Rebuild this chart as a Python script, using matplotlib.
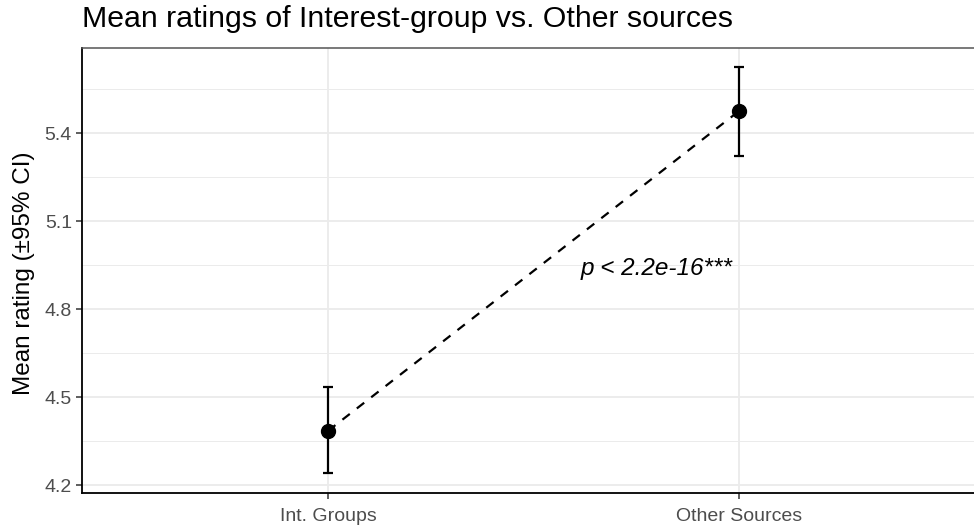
import numpy as np
import matplotlib.pyplot as plt

plt.rcParams['font.family'] = ['Liberation Sans', 'DejaVu Sans']

groups = ["Int. Groups", "Other Sources"]
means = [4.385, 5.475]
ci_low = [4.242, 5.322]
ci_high = [4.534, 5.627]
p_label = "p < 2.2e-16***"

fig = plt.figure(figsize=(9.74, 5.27), dpi=100)
ax = fig.add_axes([81.7 / 974, 34 / 527, (985 - 81.7) / 974, (493 - 48) / 527])

x = np.arange(1, len(groups) + 1)
m = np.array(means)
yerr = [m - np.array(ci_low), np.array(ci_high) - m]

# dashed connector between the two group means
ax.plot(x, m, linestyle=(0, (4.2, 4)), color='black', lw=1.6, zorder=3)
ax.errorbar(x, m, yerr=yerr, fmt='o', color='black', ms=10, elinewidth=1.6,
            capsize=3.5, capthick=1.6, zorder=4)

ax.text(1.8, 4.938, p_label, style='italic', fontsize=17.5, ha='center', va='center')

ax.set_xlim(0.4, 2.6)
ax.set_ylim(4.173, 5.691)
ax.set_xticks(x)
ax.set_xticklabels(groups)
ax.set_yticks([4.2, 4.5, 4.8, 5.1, 5.4])
ax.set_yticks([4.35, 4.65, 4.95, 5.25, 5.55], minor=True)
ax.tick_params(axis='both', which='major', length=4, width=1.1, color='#333333',
               labelsize=14, labelcolor='#4D4D4D', pad=3)
ax.tick_params(axis='x', which='major', pad=7)
ax.tick_params(axis='y', which='minor', length=0)

ax.grid(which='major', color='#EBEBEB', lw=1.3, zorder=0)
ax.grid(which='minor', axis='y', color='#EBEBEB', lw=0.7, zorder=0)
ax.set_axisbelow(True)

for side in ['left', 'bottom']:
    ax.spines[side].set_color('black')
    ax.spines[side].set_linewidth(1.3)
ax.spines['top'].set_color('#555555')
ax.spines['top'].set_linewidth(1.1)
ax.spines['right'].set_visible(False)

fig.text(82 / 974, 1 - 5 / 527, "Mean ratings of Interest-group vs. Other sources",
         fontsize=21.8, ha='left', va='top')
fig.text(24 / 974, 1 - 273 / 527, "Mean rating (\u00b195% CI)", fontsize=17.5,
         rotation=90, ha='center', va='center')

fig.savefig('out.png', dpi=100)
